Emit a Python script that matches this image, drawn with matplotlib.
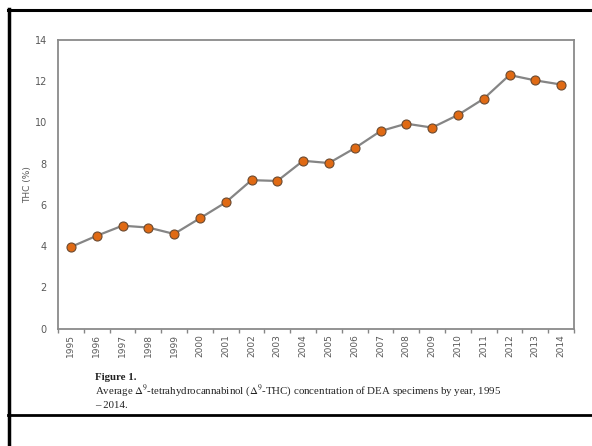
# -*- coding: utf-8 -*-
"""
Durchschnittliche THC-Konzentration von DEA-Proben pro Jahr, 1995 - 2014
"""
import matplotlib
matplotlib.use("Agg")
import matplotlib.pyplot as plt
from matplotlib.lines import Line2D

plt.rcParams['mathtext.fontset'] = 'stix'  # Serifen-Delta in der Bildunterschrift

# Daten
jahre = [str(j) for j in range(1995, 2015)]
thc_prozent = [3.96, 4.50, 4.99, 4.90, 4.59, 5.35, 6.12, 7.20, 7.16, 8.14,
               8.03, 8.75, 9.58, 9.94, 9.75, 10.36, 11.15, 12.30, 12.04, 11.84]
y_ticks = [0, 2, 4, 6, 8, 10, 12, 14]

# Farben
linien_farbe = '#858585'
punkt_farbe = '#E06A14'
rand_farbe = '#6b4a30'
text_grau = '#595959'

fig = plt.figure(figsize=(5.92, 4.46), dpi=100)
ax = fig.add_axes([0.098, 0.2634, 0.8716, 0.6469])

x = list(range(len(jahre)))
ax.plot(x, thc_prozent, color=linien_farbe, linewidth=1.6, marker='o', markersize=6.5,
        markerfacecolor=punkt_farbe, markeredgecolor=rand_farbe, markeredgewidth=0.8, zorder=3)

ax.set_xlim(-0.5, len(jahre) - 0.5)
ax.set_ylim(0, 14)
ax.set_yticks(y_ticks)
ax.set_yticklabels([str(t) for t in y_ticks], fontsize=7, color=text_grau)
ax.set_xticks(x)
ax.set_xticklabels(jahre, rotation=90, fontsize=6.5, color=text_grau)
ax.set_xticks([i - 0.5 for i in range(len(jahre) + 1)], minor=True)
ax.tick_params(axis='x', which='major', length=0, pad=4)
ax.tick_params(axis='x', which='minor', length=3, color=linien_farbe, width=1)
ax.tick_params(axis='y', length=0, pad=8)
ax.set_ylabel('THC (%)', fontsize=6.5, color=text_grau, labelpad=2)

for s in ax.spines.values():
    s.set_color('#8a8a8a')
    s.set_linewidth(1.3)

# Bildunterschrift
fig.text(95 / 592, 1 - 377 / 446, 'Figure 1.', fontsize=7.8, fontweight='bold',
         family='Liberation Serif', va='center', color='#222222')
fig.text(95 / 592, 1 - 391 / 446,
         r'Average $\Delta^9$-tetrahydrocannabinol ($\Delta^9$-THC) concentration of DEA specimens by year, 1995',
         fontsize=7.8, family='Liberation Serif', va='center', color='#222222')
fig.text(95 / 592, 1 - 406 / 446, '\u2013 2014.', fontsize=7.8, family='Liberation Serif',
         va='center', color='#222222')

# Schwarzer Rahmen
fig.add_artist(Line2D([9 / 592, 9 / 592], [0, 1 - 9 / 446], transform=fig.transFigure,
                      color='black', linewidth=2.5))
fig.add_artist(Line2D([8 / 592, 1], [1 - 9.5 / 446, 1 - 9.5 / 446], transform=fig.transFigure,
                      color='black', linewidth=2.2))
fig.add_artist(Line2D([8 / 592, 1], [1 - 415 / 446, 1 - 415 / 446], transform=fig.transFigure,
                      color='black', linewidth=2.0))

fig.savefig('out.png', dpi=100)
